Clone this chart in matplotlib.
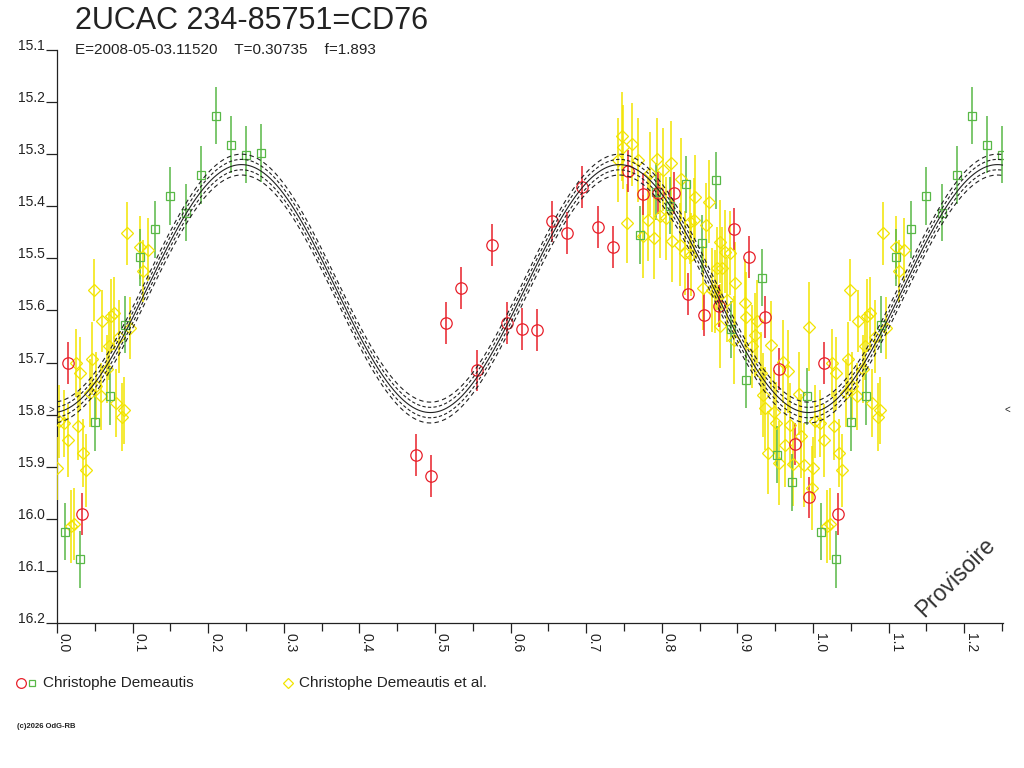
import numpy as np
import matplotlib
matplotlib.use("Agg")
import matplotlib.pyplot as plt
from matplotlib.ticker import MultipleLocator
from matplotlib.lines import Line2D

plt.rcParams['font.family'] = ['Liberation Sans', 'DejaVu Sans']

# ---------------- data ----------------
title = "2UCAC 234-85751=CD76"
subtitle = "E=2008-05-03.11520    T=0.30735    f=1.893"
legend_red_green = "Christophe Demeautis"
legend_yellow = "Christophe Demeautis et al."
copyright_txt = "(c)2026 OdG-RB"
watermark = "Provisoire"

# fitted light-curve parameters
fit_mean = 15.558
fit_amp = 0.238
fit_phase0 = -0.006
fit_offsets = [-0.02, -0.01, 0.0, 0.01, 0.02]
mean_mag = 15.79

red_phase = [0.014, 0.033, 0.475, 0.495, 0.515, 0.535, 0.555, 0.575, 0.595, 0.615,
             0.635, 0.655, 0.675, 0.695, 0.716, 0.735, 0.755, 0.775, 0.795, 0.816,
             0.835, 0.856, 0.876, 0.896, 0.916, 0.936, 0.955, 0.976, 0.995]
red_mag = [15.701, 15.991, 15.878, 15.918, 15.624, 15.557, 15.715, 15.474, 15.624, 15.635,
           15.638, 15.429, 15.451, 15.363, 15.440, 15.478, 15.332, 15.376, 15.375, 15.375,
           15.569, 15.609, 15.591, 15.444, 15.498, 15.612, 15.712, 15.856, 15.959]
red_err = [0.04] * len(red_phase)

green_phase = [0.010, 0.030, 0.050, 0.070, 0.090, 0.110, 0.130, 0.150, 0.170, 0.190,
               0.210, 0.230, 0.250, 0.270, 0.771, 0.792, 0.811, 0.832, 0.853, 0.872,
               0.891, 0.912, 0.932, 0.952, 0.972, 0.992]
green_mag = [16.025, 16.078, 15.815, 15.765, 15.627, 15.498, 15.444, 15.380, 15.412, 15.340,
             15.226, 15.282, 15.301, 15.298, 15.455, 15.372, 15.399, 15.358, 15.471, 15.350,
             15.636, 15.733, 15.537, 15.877, 15.930, 15.765]
green_err = [0.055] * len(green_phase)

yellow_phase = [0.000, 0.003, 0.009, 0.014, 0.019, 0.022, 0.025, 0.028, 0.031, 0.035,
                0.039, 0.043, 0.046, 0.049, 0.052, 0.058, 0.059, 0.066, 0.069, 0.071,
                0.075, 0.078, 0.082, 0.086, 0.089, 0.093, 0.096, 0.110, 0.114, 0.121,
                0.742, 0.747, 0.749, 0.754, 0.761, 0.769, 0.775, 0.782, 0.784, 0.790,
                0.793, 0.798, 0.802, 0.806, 0.812, 0.814, 0.824, 0.825, 0.831, 0.837,
                0.838, 0.842, 0.844, 0.855, 0.859, 0.862, 0.866, 0.870, 0.873, 0.877,
                0.877, 0.880, 0.884, 0.886, 0.890, 0.895, 0.897, 0.910, 0.912, 0.919,
                0.923, 0.926, 0.931, 0.934, 0.937, 0.941, 0.944, 0.948, 0.951, 0.955,
                0.960, 0.963, 0.967, 0.970, 0.973, 0.981, 0.984, 0.988, 0.995, 0.999]
yellow_mag = [15.903, 15.813, 15.817, 15.849, 16.014, 16.010, 15.701, 15.822, 15.721, 15.874,
              15.907, 15.759, 15.693, 15.561, 15.745, 15.765, 15.620, 15.713, 15.668, 15.610,
              15.605, 15.778, 15.650, 15.804, 15.792, 15.452, 15.634, 15.479, 15.524, 15.483,
              15.311, 15.266, 15.286, 15.433, 15.281, 15.311, 15.458, 15.426, 15.337, 15.460,
              15.310, 15.419, 15.330, 15.423, 15.316, 15.466, 15.474, 15.348, 15.490, 15.430,
              15.493, 15.426, 15.382, 15.557, 15.436, 15.391, 15.561, 15.564, 15.519, 15.468,
              15.630, 15.519, 15.487, 15.580, 15.490, 15.657, 15.548, 15.586, 15.612, 15.669,
              15.647, 15.621, 15.721, 15.762, 15.788, 15.873, 15.666, 15.794, 15.817, 15.893,
              15.698, 15.858, 15.717, 15.820, 15.895, 15.760, 15.841, 15.897, 15.631, 15.941]
yellow_err = [0.060, 0.070, 0.065, 0.070, 0.070, 0.070, 0.065, 0.065, 0.070, 0.065,
              0.070, 0.065, 0.070, 0.060, 0.065, 0.065, 0.060, 0.065, 0.065, 0.070,
              0.070, 0.065, 0.070, 0.065, 0.065, 0.060, 0.060, 0.060, 0.060, 0.060,
              0.080, 0.085, 0.080, 0.075, 0.080, 0.080, 0.080, 0.080, 0.080, 0.080,
              0.080, 0.080, 0.080, 0.080, 0.080, 0.080, 0.080, 0.080, 0.080, 0.080,
              0.080, 0.080, 0.080, 0.080, 0.080, 0.080, 0.080, 0.080, 0.080, 0.080,
              0.080, 0.080, 0.080, 0.080, 0.080, 0.085, 0.080, 0.085, 0.085, 0.080,
              0.080, 0.080, 0.080, 0.080, 0.080, 0.080, 0.085, 0.080, 0.080, 0.080,
              0.080, 0.080, 0.080, 0.080, 0.080, 0.080, 0.080, 0.080, 0.085, 0.080]

# ---------------- styles ----------------
RED = '#e8202a'
GREEN = '#58b847'
YELLOW = '#f2e400'
INK = '#222222'

W, H = 1024, 768
fig = plt.figure(figsize=(W / 100, H / 100), dpi=100)

x0, x1 = 57, 1003
y_top, y_bot = 50, 623
ax = fig.add_axes([x0 / W, 1 - y_bot / H, (x1 - x0) / W, (y_bot - y_top) / H])
px_per_phase = 756.0
xmax = (x1 - x0) / px_per_phase
ax.set_xlim(0, xmax)
ax.set_ylim(16.2, 15.1)


def wrap(ph, mg, er):
    ph = np.asarray(ph, float)
    mg = np.asarray(mg, float)
    er = np.asarray(er, float)
    sel = ph + 1 <= xmax + 0.01
    return (np.concatenate([ph, ph[sel] + 1]),
            np.concatenate([mg, mg[sel]]),
            np.concatenate([er, er[sel]]))


# model curves
xs = np.linspace(0, xmax, 1200)
base = fit_mean + fit_amp * np.cos(4 * np.pi * (xs - fit_phase0))
for off in fit_offsets:
    if off == 0:
        ax.plot(xs, base + off, color=INK, lw=0.8, zorder=5)
    else:
        ax.plot(xs, base + off, color=INK, lw=0.8, dashes=(3, 2) if abs(off) < 0.015 else (4, 3),
                zorder=5)

series = [
    (yellow_phase, yellow_mag, yellow_err, YELLOW, 'D', 6.0),
    (green_phase, green_mag, green_err, GREEN, 's', 6.2),
    (red_phase, red_mag, red_err, RED, 'o', 8.2),
]
for ph, mg, er, col, mk, ms in series:
    p, m, e = wrap(ph, mg, er)
    ax.errorbar(p, m, yerr=e, fmt='none', ecolor=col, elinewidth=1.1, capsize=0, zorder=3)
    ax.plot(p, m, linestyle='none', marker=mk, ms=ms, mfc='none', mec=col, mew=0.9, zorder=4)

# axes styling
for s in ['top', 'right']:
    ax.spines[s].set_visible(False)
for s in ['left', 'bottom']:
    ax.spines[s].set_color(INK)
    ax.spines[s].set_linewidth(0.9)

yt = np.round(np.arange(15.1, 16.21, 0.1), 1)
ax.set_yticks(yt)
ax.set_yticklabels([f"{v:.1f}" for v in yt])
ax.tick_params(axis='y', direction='out', length=8, width=0.9, pad=0.5,
               labelsize=10, colors=INK)
for lab in ax.get_yticklabels():
    lab.set_va('baseline')

ax.xaxis.set_major_locator(MultipleLocator(0.1))
ax.xaxis.set_minor_locator(MultipleLocator(0.05))
ax.tick_params(axis='x', which='major', direction='out', length=7, width=0.9, pad=0,
               labelsize=10, colors=INK)
ax.tick_params(axis='x', which='minor', direction='out', length=6, width=0.9, colors=INK)
ax.set_xticks(np.round(np.arange(0, 1.21, 0.1), 1))
ax.set_xticklabels([f"{v:.1f}" for v in np.arange(0, 1.21, 0.1)])
for lab in ax.get_xticklabels():
    lab.set_rotation(270)
    lab.set_ha('left')
    lab.set_va('top')

# mean-magnitude markers
ax.text(-6 / px_per_phase, mean_mag, '>', ha='center', va='center', fontsize=7,
        color=INK, clip_on=False)
ax.text(xmax + 4 / px_per_phase, mean_mag, '<', ha='center', va='center', fontsize=7,
        color=INK, clip_on=False)

# titles
fig.text(75 / W, 1 - 29 / H, title, fontsize=22, color=INK, ha='left', va='baseline')
fig.text(75 / W, 1 - 54 / H, subtitle, fontsize=11, color=INK, ha='left', va='baseline')

# watermark
fig.text(956 / W, 1 - 577 / H, watermark, fontsize=16.5, color='#333333', rotation=45,
         ha='center', va='center')

# legend
ly = 1 - 683 / H
fig.add_artist(Line2D([20.5 / W], [ly], marker='o', ms=7, mfc='none', mec=RED, mew=0.9,
                      linestyle='none', transform=fig.transFigure))
fig.add_artist(Line2D([32.3 / W], [ly], marker='s', ms=5, mfc='none', mec=GREEN, mew=0.9,
                      linestyle='none', transform=fig.transFigure))
fig.text(43 / W, 1 - 687 / H, legend_red_green, fontsize=11, color=INK, ha='left',
         va='baseline')
fig.add_artist(Line2D([288.3 / W], [ly], marker='D', ms=5.5, mfc='none', mec=YELLOW, mew=0.9,
                      linestyle='none', transform=fig.transFigure))
fig.text(299 / W, 1 - 687 / H, legend_yellow, fontsize=11, color=INK, ha='left',
         va='baseline')

fig.text(17 / W, 1 - 728 / H, copyright_txt, fontsize=5.5, color=INK, ha='left',
         va='baseline', fontweight='bold')

fig.savefig('out.png', dpi=100)
